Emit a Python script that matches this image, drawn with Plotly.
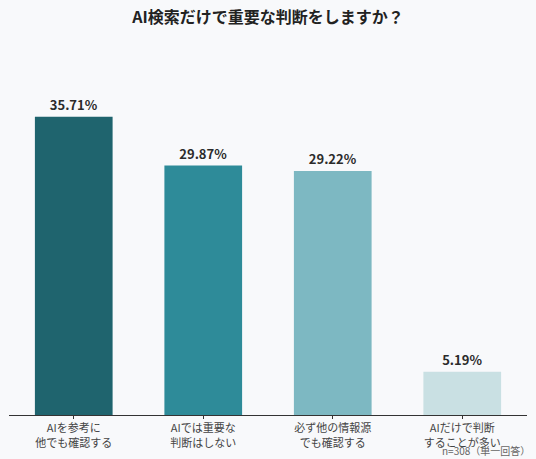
import plotly.graph_objects as go

# 回答データ
categories = [
    "AIを参考に<br>他でも確認する",
    "AIでは重要な<br>判断はしない",
    "必ず他の情報源<br>でも確認する",
    "AIだけで判断<br>することが多い",
]
values = [35.71, 29.87, 29.22, 5.19]
bar_colors = ["#1f646e", "#2e8b99", "#7db8c2", "#c9e0e3"]

FONT = "Noto Sans CJK JP, Noto Sans, sans-serif"
BG = "#f8f9fb"

fig = go.Figure(
    go.Bar(
        x=categories,
        y=values,
        marker=dict(color=bar_colors, line=dict(width=0)),
        text=[f"{v:.2f}%" for v in values],
        textposition="outside",
        cliponaxis=False,
        textfont=dict(size=13, color="#2b2b2b", family=FONT, weight="bold"),
        hoverinfo="x+y",
    )
)

fig.update_layout(
    width=536,
    height=459,
    paper_bgcolor=BG,
    plot_bgcolor=BG,
    bargap=0.4,
    showlegend=False,
    margin=dict(l=9, r=9, t=40, b=44),
    title=dict(
        text="<b>AI検索だけで重要な判断をしますか？</b>",
        x=0.5,
        xanchor="center",
        y=0.962,
        yanchor="middle",
        font=dict(size=16, color="#222222", family=FONT),
    ),
    xaxis=dict(
        showline=True,
        linecolor="#333333",
        linewidth=1,
        ticks="outside",
        ticklen=3,
        tickcolor="#333333",
        tickfont=dict(size=11, color="#444444", family=FONT),
    ),
    yaxis=dict(
        range=[0, 44.9],
        showgrid=False,
        zeroline=False,
        showticklabels=False,
    ),
    annotations=[
        dict(
            text="n=308（単一回答）",
            xref="paper",
            yref="paper",
            x=1.01,
            y=-0.094,
            xanchor="right",
            yanchor="middle",
            showarrow=False,
            font=dict(size=10, color="#666666", family=FONT),
        )
    ],
)

# ページの余白を消して図をウィンドウにぴったり合わせる
fig.write_html(
    "out.html",
    config={"displayModeBar": False},
    post_script="document.body.style.margin='0';document.body.style.overflow='hidden';",
)
